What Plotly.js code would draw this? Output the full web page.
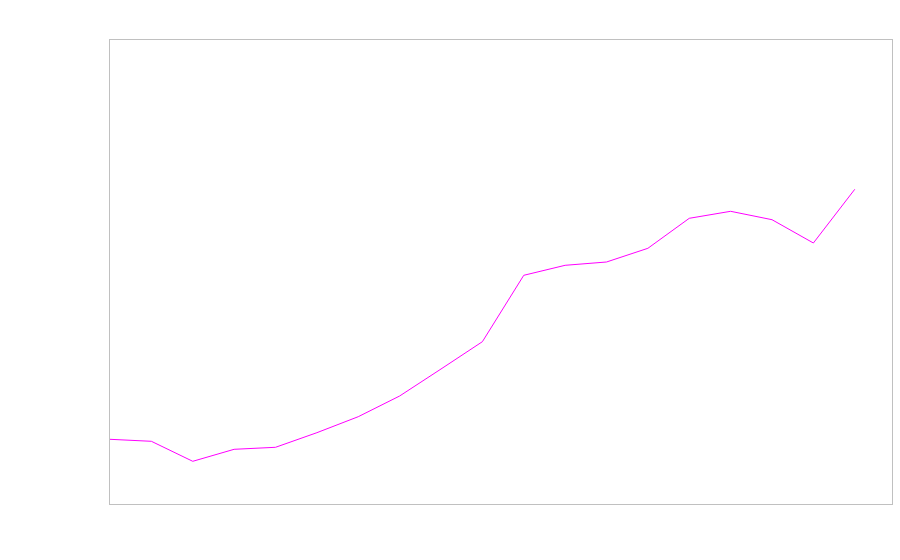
<!DOCTYPE html>
<html>
<head>
<meta charset="utf-8">
<script src="https://cdn.plot.ly/plotly-3.0.1.min.js"></script>
<style>html,body{margin:0;padding:0;background:#fff;}#chart{width:900px;height:560px;}</style>
</head>
<body>
<div id="chart"></div>
<script>
var xIndex = [0,1,2,3,4,5,6,7,8,9,10,11,12,13,14,15,16,17,18];
var seriesValues = [64.7,62.7,42.7,54.7,56.7,71.3,87.3,108,135,162.3,228.7,238.7,242,255.7,285.7,292.7,284.3,261,314.7];

var trace = {
  x: xIndex,
  y: seriesValues,
  type: 'scatter',
  mode: 'lines',
  line: {color: '#ff00ff', width: 1},
  hoverinfo: 'none'
};

var axisCommon = {
  showline: true, mirror: true, linecolor: '#c0c0c0', linewidth: 1,
  showgrid: false, zeroline: false, showticklabels: false, ticks: ''
};

var layout = {
  width: 900, height: 560,
  margin: {l: 110, r: 8, t: 40, b: 56},
  paper_bgcolor: '#ffffff', plot_bgcolor: '#ffffff',
  showlegend: false,
  xaxis: Object.assign({range: [0, 18.9]}, axisCommon),
  yaxis: Object.assign({range: [0, 464]}, axisCommon)
};

Plotly.newPlot('chart', [trace], layout, {displayModeBar: false, staticPlot: true});
</script>
</body>
</html>
